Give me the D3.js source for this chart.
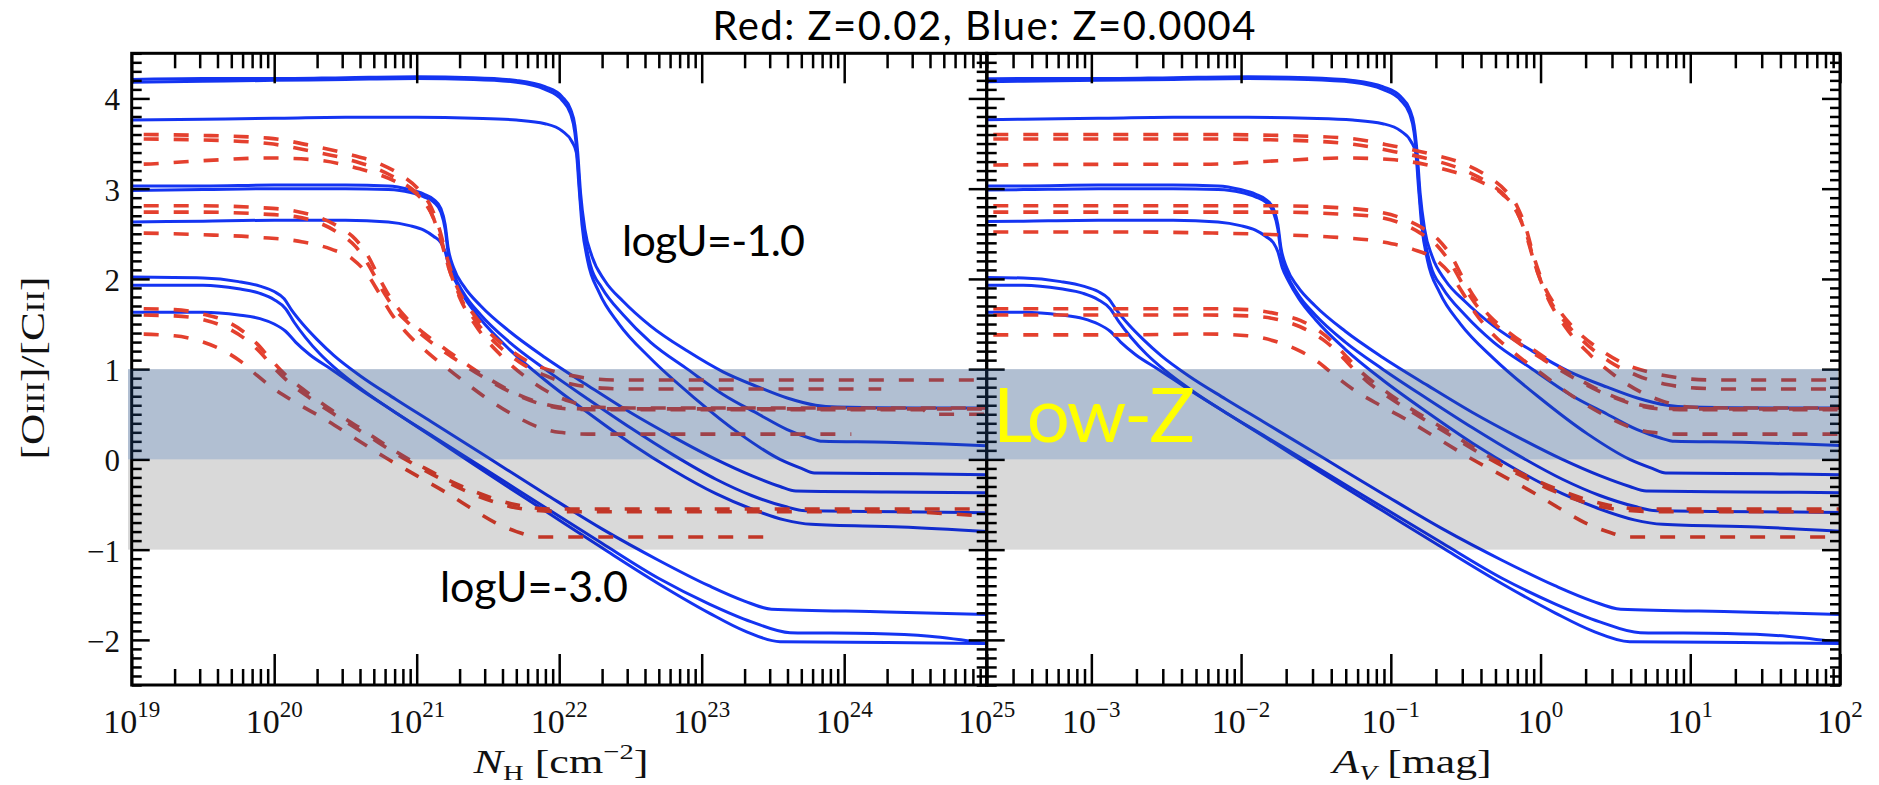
<!DOCTYPE html>
<html>
<head>
<meta charset="utf-8">
<script src="https://cdn.jsdelivr.net/npm/d3@7"></script>
<style>
  html, body { margin: 0; padding: 0; background: #ffffff; }
  svg { display: block; }
</style>
</head>
<body>
<svg id="chart" width="1879" height="785"></svg>
<script>
// Cloudy-style tracks of log([OIII]/[CII]) against log10 N_H [cm^-2].
// Each track is a list of [log10 N_H, log ratio] pairs.

// Blue: Z = 0.0004
const blueU1a = [[19,4.21],[19.5,4.22],[20,4.22],[20.5,4.23],[21,4.24],[21.4,4.23],[21.7,4.2],[21.9,4.13],[22.02,4.02],[22.08,3.88],[22.11,3.7],[22.13,3.4],[22.15,2.95],[22.18,2.55],[22.23,2.25],[22.32,1.98],[22.45,1.75],[22.64,1.48],[22.9,1.2],[23.15,0.97],[23.4,0.8],[23.6,0.68],[23.8,0.6],[23.95,0.58],[24.5,0.57],[25,0.57]];
const blueU1b = [[19,4.18],[19.5,4.19],[20,4.2],[20.5,4.21],[21,4.22],[21.4,4.21],[21.7,4.18],[21.9,4.1],[22.02,3.98],[22.08,3.83],[22.11,3.62],[22.13,3.3],[22.15,2.85],[22.18,2.45],[22.22,2.15],[22.3,1.9],[22.45,1.6],[22.64,1.3],[22.9,1.0],[23.15,0.72],[23.4,0.5],[23.6,0.33],[23.75,0.24],[23.85,0.2],[24.3,0.19],[24.7,0.17],[25,0.15]];
const blueU1c = [[19,3.76],[19.5,3.77],[20,3.78],[20.5,3.79],[21,3.79],[21.4,3.78],[21.7,3.76],[21.9,3.72],[22.02,3.64],[22.09,3.52],[22.12,3.4],[22.14,3.0],[22.16,2.6],[22.2,2.2],[22.28,1.85],[22.42,1.5],[22.64,1.12],[22.95,0.68],[23.27,0.28],[23.55,0.0],[23.7,-0.1],[23.79,-0.15],[24.5,-0.16],[25,-0.17]];
const blueU2a = [[19,3.03],[19.5,3.03],[20,3.04],[20.5,3.04],[20.8,3.03],[20.95,2.99],[21.05,2.94],[21.12,2.88],[21.17,2.78],[21.2,2.6],[21.22,2.35],[21.26,2.12],[21.33,1.92],[21.45,1.7],[21.65,1.42],[21.9,1.13],[22.2,0.82],[22.5,0.52],[22.8,0.25],[23.1,0.0],[23.35,-0.18],[23.55,-0.3],[23.66,-0.35],[24.3,-0.36],[25,-0.37]];
const blueU2b = [[19,2.98],[19.5,2.99],[20,3.0],[20.5,3.0],[20.8,2.99],[20.95,2.96],[21.05,2.91],[21.12,2.85],[21.17,2.74],[21.2,2.55],[21.22,2.3],[21.26,2.06],[21.33,1.84],[21.45,1.6],[21.65,1.3],[21.9,1.0],[22.2,0.67],[22.5,0.35],[22.8,0.05],[23.1,-0.22],[23.35,-0.4],[23.58,-0.52],[23.73,-0.57],[24.4,-0.58],[25,-0.59]];
const blueU2c = [[19,2.63],[19.5,2.64],[20,2.65],[20.5,2.65],[20.8,2.63],[20.95,2.59],[21.05,2.54],[21.12,2.47],[21.17,2.4],[21.2,2.3],[21.23,2.12],[21.27,1.98],[21.34,1.78],[21.45,1.55],[21.65,1.22],[21.9,0.88],[22.2,0.52],[22.5,0.18],[22.8,-0.12],[23.1,-0.38],[23.35,-0.55],[23.58,-0.67],[23.77,-0.72],[24.4,-0.75],[25,-0.8]];
const blueU3a = [[19,2.02],[19.5,2.01],[19.75,1.97],[19.9,1.92],[20.0,1.86],[20.07,1.78],[20.12,1.66],[20.2,1.5],[20.3,1.33],[20.42,1.15],[20.6,0.93],[20.85,0.67],[21.1,0.42],[21.5,0.02],[21.9,-0.38],[22.3,-0.77],[22.7,-1.12],[23.05,-1.4],[23.3,-1.57],[23.49,-1.66],[24.3,-1.69],[25,-1.72]];
const blueU3b = [[19,1.93],[19.5,1.93],[19.75,1.89],[19.9,1.84],[20.0,1.77],[20.08,1.67],[20.14,1.52],[20.22,1.35],[20.32,1.17],[20.45,0.98],[20.62,0.77],[20.87,0.5],[21.12,0.25],[21.5,-0.13],[21.9,-0.53],[22.3,-0.93],[22.7,-1.32],[23.05,-1.6],[23.35,-1.8],[23.62,-1.92],[24.2,-1.93],[24.6,-1.96],[25,-2.04]];
const blueU3c = [[19,1.63],[19.5,1.63],[19.75,1.6],[19.9,1.56],[20.0,1.5],[20.08,1.42],[20.15,1.3],[20.25,1.16],[20.4,1.0],[20.6,0.78],[20.85,0.52],[21.12,0.24],[21.5,-0.16],[21.9,-0.57],[22.3,-0.98],[22.7,-1.38],[23.05,-1.7],[23.3,-1.9],[23.55,-2.02],[24.3,-2.03],[25,-2.04]];

// Red: Z = 0.02
const redU1a = [[17.4,3.6],[18.5,3.6],[19,3.6],[19.5,3.59],[19.96,3.56],[20.28,3.47],[20.53,3.38],[20.75,3.27],[20.9,3.14],[21.02,2.98],[21.1,2.8],[21.16,2.55],[21.21,2.25],[21.28,1.92],[21.38,1.65],[21.5,1.42],[21.65,1.22],[21.8,1.07],[22.0,0.96],[22.2,0.9],[22.4,0.88],[25,0.88]];
const redU1b = [[17.4,3.55],[18.5,3.55],[19,3.55],[19.5,3.54],[19.96,3.5],[20.28,3.41],[20.53,3.32],[20.75,3.2],[20.9,3.07],[21.03,2.9],[21.11,2.7],[21.17,2.45],[21.22,2.15],[21.3,1.82],[21.42,1.52],[21.56,1.28],[21.72,1.08],[21.9,0.93],[22.1,0.83],[22.3,0.79],[22.5,0.78],[24.26,0.78]];
const redU1c = [[17.4,3.26],[18.5,3.27],[19,3.27],[19.5,3.31],[19.96,3.34],[20.28,3.32],[20.6,3.22],[20.85,3.08],[21.0,2.94],[21.1,2.74],[21.16,2.48],[21.22,2.15],[21.3,1.8],[21.42,1.47],[21.58,1.17],[21.75,0.93],[21.92,0.75],[22.08,0.64],[22.25,0.58],[22.5,0.57],[25,0.57]];
const redU2a = [[17.4,2.81],[18.5,2.81],[19,2.81],[19.5,2.81],[19.9,2.79],[20.15,2.75],[20.3,2.69],[20.45,2.58],[20.57,2.44],[20.66,2.25],[20.74,2.0],[20.82,1.78],[20.92,1.58],[21.05,1.4],[21.22,1.2],[21.42,0.98],[21.62,0.79],[21.82,0.65],[22.0,0.58],[22.2,0.56],[25,0.56]];
const redU2b = [[17.4,2.74],[18.5,2.74],[19,2.74],[19.5,2.74],[19.9,2.72],[20.15,2.69],[20.3,2.63],[20.45,2.51],[20.57,2.36],[20.66,2.16],[20.75,1.9],[20.84,1.68],[20.95,1.5],[21.1,1.3],[21.28,1.1],[21.48,0.9],[21.68,0.73],[21.88,0.61],[22.05,0.56],[22.3,0.55],[24.55,0.55],[24.6,0.5],[25,0.5]];
const redU2c = [[17.4,2.52],[18.5,2.52],[19,2.51],[19.5,2.49],[19.9,2.46],[20.2,2.41],[20.4,2.33],[20.55,2.22],[20.65,2.06],[20.73,1.86],[20.82,1.62],[20.93,1.4],[21.08,1.18],[21.27,0.94],[21.47,0.7],[21.67,0.5],[21.85,0.36],[22.0,0.3],[22.2,0.28],[24.05,0.28]];
const redU3a = [[17.4,1.67],[18.5,1.67],[19,1.67],[19.3,1.66],[19.5,1.61],[19.65,1.54],[19.78,1.42],[19.88,1.28],[19.97,1.12],[20.07,0.95],[20.2,0.78],[20.4,0.55],[20.6,0.35],[20.84,0.1],[21.06,-0.1],[21.38,-0.34],[21.69,-0.5],[21.95,-0.55],[25,-0.55]];
const redU3b = [[17.4,1.6],[18.5,1.6],[19,1.6],[19.3,1.59],[19.5,1.55],[19.65,1.47],[19.8,1.33],[19.9,1.19],[19.99,1.03],[20.1,0.86],[20.25,0.68],[20.45,0.47],[20.65,0.27],[20.9,0.02],[21.15,-0.2],[21.45,-0.42],[21.75,-0.55],[22.05,-0.58],[24.4,-0.58],[24.7,-0.6],[25,-0.63]];
const redU3c = [[17.4,1.38],[18.5,1.38],[19,1.39],[19.3,1.37],[19.5,1.3],[19.65,1.2],[19.77,1.08],[19.88,0.93],[20.0,0.78],[20.15,0.63],[20.35,0.45],[20.55,0.25],[20.78,0.02],[21.0,-0.18],[21.22,-0.38],[21.4,-0.56],[21.55,-0.7],[21.7,-0.8],[21.85,-0.86],[23.53,-0.86]];

const blueTracks = [blueU1a, blueU1b, blueU1c, blueU2a, blueU2b, blueU2c, blueU3a, blueU3b, blueU3c];
const redTracks = [redU1a, redU1b, redU1c, redU2a, redU2b, redU2c, redU3a, redU3b, redU3c];

// Metallicities and the dust conversion A_V = N_H (Z / Z_sun) / 1.8e21 mag
const zRed = 0.02;
const zBlue = 0.0004;
const zSun = 0.02;
const nhPerMag = 1.8e21;

// Axis ranges and tick labels
const nhDomain = [1e19, 1e25];
const avDomain = [2e-4, 1e2];
const ratioDomain = [-2.5, 4.5];
const nhLabelExps = [19, 20, 21, 22, 23, 24, 25];
const avLabelExps = [-3, -2, -1, 0, 1, 2];
const ratioLabels = [4, 3, 2, 1, 0, -1, -2];

// Shaded ranges of the ratio
const bands = [
  { lo: 0, hi: 1, fill: "#1f497d", opacity: 0.35 },
  { lo: -1, hi: 0, fill: "#000000", opacity: 0.15 }
];

const SANS = "Lato, 'Open Sans', sans-serif";
const SERIF = "'Liberation Serif', 'DejaVu Serif', serif";
const BLUE = "#1434f2";
const RED = "#e4402e";

const svg = d3.select("#chart");

const yTop = 53.3, yBot = 685;
const y = d3.scaleLinear().domain(ratioDomain).range([yBot, yTop]);
const xNH = d3.scaleLog().domain(nhDomain).range([131.7, 986.7]);
const xAV = d3.scaleLog().domain(avDomain).range([986.7, 1840]);

const panels = [
  { id: "nh", x: xNH, shiftRed: 0, shiftBlue: 0 },
  { id: "av", x: xAV,
    shiftRed: Math.log10(zRed / zSun) - Math.log10(nhPerMag),
    shiftBlue: Math.log10(zBlue / zSun) - Math.log10(nhPerMag) }
];

const defs = svg.append("defs");

panels.forEach(p => {
  const [x0, x1] = p.x.range();
  defs.append("clipPath").attr("id", "clip-" + p.id)
    .append("rect").attr("x", x0).attr("y", yTop).attr("width", x1 - x0).attr("height", yBot - yTop);

  const g = svg.append("g").attr("clip-path", `url(#clip-${p.id})`);
  const mk = shift => d3.line()
    .x(d => p.x(Math.pow(10, d[0] + shift)))
    .y(d => y(d[1]))
    .curve(d3.curveMonotoneX);

  g.selectAll("path.blue").data(blueTracks).join("path")
    .attr("class", "blue")
    .attr("d", mk(p.shiftBlue))
    .attr("fill", "none").attr("stroke", BLUE).attr("stroke-width", 3)
    .attr("stroke-linejoin", "round");

  g.selectAll("path.red").data(redTracks).join("path")
    .attr("class", "red")
    .attr("d", mk(p.shiftRed))
    .attr("fill", "none").attr("stroke", RED).attr("stroke-width", 3.6)
    .attr("stroke-dasharray", "15,15");
});

// Frames and inward ticks
const isDecade = v => Math.abs(Math.log10(v) - Math.round(Math.log10(v))) < 1e-9;
const yMinor = d3.range(-25, 46).map(i => i / 10).filter(v => Math.abs(v - Math.round(v)) > 1e-9);
const yMajor = d3.range(-2, 5);

function styleAxis(sel) {
  sel.select(".domain").remove();
  sel.selectAll("line").attr("stroke", "#000").attr("stroke-width", 2.5);
}

panels.forEach(p => {
  const [x0, x1] = p.x.range();
  const all = p.x.ticks();
  const major = all.filter(isDecade);
  const minor = all.filter(v => !isDecade(v));
  const axes = svg.append("g");

  // bottom & top
  axes.append("g").attr("transform", `translate(0,${yBot})`)
    .call(d3.axisTop(p.x).tickValues(minor).tickSize(16).tickFormat("")).call(styleAxis);
  axes.append("g").attr("transform", `translate(0,${yBot})`)
    .call(d3.axisTop(p.x).tickValues(major).tickSize(31).tickFormat("")).call(styleAxis);
  axes.append("g").attr("transform", `translate(0,${yTop})`)
    .call(d3.axisBottom(p.x).tickValues(minor).tickSize(15).tickFormat("")).call(styleAxis);
  axes.append("g").attr("transform", `translate(0,${yTop})`)
    .call(d3.axisBottom(p.x).tickValues(major).tickSize(30).tickFormat("")).call(styleAxis);
  // left & right
  axes.append("g").attr("transform", `translate(${x0},0)`)
    .call(d3.axisRight(y).tickValues(yMinor).tickSize(10).tickFormat("")).call(styleAxis);
  axes.append("g").attr("transform", `translate(${x0},0)`)
    .call(d3.axisRight(y).tickValues(yMajor).tickSize(18).tickFormat("")).call(styleAxis);
  axes.append("g").attr("transform", `translate(${x1},0)`)
    .call(d3.axisLeft(y).tickValues(yMinor).tickSize(10).tickFormat("")).call(styleAxis);
  axes.append("g").attr("transform", `translate(${x1},0)`)
    .call(d3.axisLeft(y).tickValues(yMajor).tickSize(18).tickFormat("")).call(styleAxis);

  axes.append("rect")
    .attr("x", x0).attr("y", yTop).attr("width", x1 - x0).attr("height", yBot - yTop)
    .attr("fill", "none").attr("stroke", "#000").attr("stroke-width", 3);
});

// Translucent shaded ranges over everything inside the frames
svg.append("g").selectAll("rect").data(bands).join("rect")
  .attr("x", 128).attr("width", 1838 - 128)
  .attr("y", d => y(d.hi)).attr("height", d => y(d.lo) - y(d.hi))
  .attr("fill", d => d.fill).attr("fill-opacity", d => d.opacity);

// Tick labels
const fmtExp = v => (v < 0 ? "\u2212" + Math.abs(v) : String(v));

function decadeLabels(scale, exps) {
  const t = svg.append("g").selectAll("text").data(exps).join("text")
    .attr("x", d => scale(Math.pow(10, d)))
    .attr("y", 733)
    .attr("text-anchor", "middle")
    .attr("font-family", SERIF).attr("font-size", 34).attr("fill", "#111");
  t.append("tspan").text("10");
  t.append("tspan").attr("font-size", 23).attr("dy", -16).text(d => fmtExp(d));
}
decadeLabels(xNH, nhLabelExps);
decadeLabels(xAV, avLabelExps);

svg.append("g").selectAll("text").data(ratioLabels).join("text")
  .attr("x", 120).attr("y", d => y(d) + 12)
  .attr("text-anchor", "end")
  .attr("font-family", SERIF).attr("font-size", 31).attr("fill", "#111")
  .text(d => fmtExp(d));

// Axis titles
const yTitle = svg.append("text")
  .attr("transform", "translate(44,368) rotate(-90)")
  .attr("text-anchor", "middle")
  .attr("font-family", SERIF).attr("font-size", 34).attr("fill", "#111")
  .attr("textLength", 183).attr("lengthAdjust", "spacingAndGlyphs");
yTitle.append("tspan").text("[O");
yTitle.append("tspan").attr("font-size", 25).text("III");
yTitle.append("tspan").text("]/[C");
yTitle.append("tspan").attr("font-size", 25).text("II");
yTitle.append("tspan").text("]");

const nhTitle = svg.append("text")
  .attr("x", 561).attr("y", 773).attr("text-anchor", "middle")
  .attr("font-family", SERIF).attr("font-size", 34).attr("fill", "#111")
  .attr("textLength", 175).attr("lengthAdjust", "spacingAndGlyphs");
nhTitle.append("tspan").attr("font-style", "italic").text("N");
nhTitle.append("tspan").attr("font-size", 22).attr("dy", 7).text("H");
nhTitle.append("tspan").attr("dy", -7).text(" [cm");
nhTitle.append("tspan").attr("font-size", 22).attr("dy", -14).text("\u22122");
nhTitle.append("tspan").attr("dy", 14).text("]");

const avTitle = svg.append("text")
  .attr("x", 1412).attr("y", 773).attr("text-anchor", "middle")
  .attr("font-family", SERIF).attr("font-size", 34).attr("fill", "#111")
  .attr("textLength", 159).attr("lengthAdjust", "spacingAndGlyphs");
avTitle.append("tspan").attr("font-style", "italic").text("A");
avTitle.append("tspan").attr("font-style", "italic").attr("font-size", 22).attr("dy", 7).text("V");
avTitle.append("tspan").attr("dy", -7).text(" [mag]");

// Title and annotations
svg.append("text")
  .attr("x", 984).attr("y", 40).attr("text-anchor", "middle")
  .attr("font-family", SANS).attr("font-size", 40).attr("fill", "#000")
  .attr("textLength", 543).attr("lengthAdjust", "spacing")
  .text("Red: Z=0.02, Blue: Z=0.0004");

svg.append("text")
  .attr("x", 622).attr("y", 256)
  .attr("font-family", SANS).attr("font-size", 43).attr("fill", "#000")
  .attr("textLength", 183).attr("lengthAdjust", "spacing")
  .text("logU=-1.0");

svg.append("text")
  .attr("x", 440).attr("y", 602)
  .attr("font-family", SANS).attr("font-size", 43).attr("fill", "#000")
  .attr("textLength", 188).attr("lengthAdjust", "spacing")
  .text("logU=-3.0");

svg.append("text")
  .attr("x", 993).attr("y", 442)
  .attr("font-family", SANS).attr("font-size", 76).attr("fill", "#ffff00")
  .attr("textLength", 202).attr("lengthAdjust", "spacing")
  .text("Low-Z");
</script>
</body>
</html>
